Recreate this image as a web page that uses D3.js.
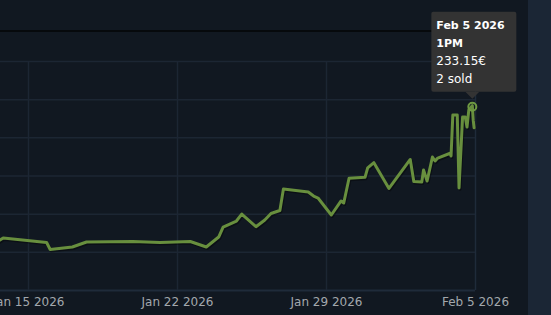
<!DOCTYPE html>
<html>
<head>
<meta charset="utf-8">
<script src="https://cdn.jsdelivr.net/npm/d3@7"></script>
<style>
  html, body { margin: 0; padding: 0; background: #111821; overflow: hidden; }
  svg { display: block; }
  .tick text { font-family: "DejaVu Sans", sans-serif; font-size: 12px; fill: #a3a8ad; }
</style>
</head>
<body>
<script>
// price history (hourly / sparse)
var dates = [
  "2026-01-13T22", "2026-01-14T12", "2026-01-16T13", "2026-01-16T17", "2026-01-17T18",
  "2026-01-18T10", "2026-01-20T14", "2026-01-21T21", "2026-01-23T07", "2026-01-24T01",
  "2026-01-24T15", "2026-01-24T20", "2026-01-25T11", "2026-01-25T17", "2026-01-26T09",
  "2026-01-26T19", "2026-01-27T02", "2026-01-27T12", "2026-01-27T16", "2026-01-28T20",
  "2026-01-29T02", "2026-01-29T07", "2026-01-29T22", "2026-01-30T09", "2026-01-30T12",
  "2026-01-30T18", "2026-01-31T12", "2026-01-31T15", "2026-01-31T22", "2026-02-01T15",
  "2026-02-02T15", "2026-02-02T19", "2026-02-03T04", "2026-02-03T06", "2026-02-03T10",
  "2026-02-03T16", "2026-02-03T19", "2026-02-03T22", "2026-02-04T12", "2026-02-04T13",
  "2026-02-04T15", "2026-02-04T20", "2026-02-04T22", "2026-02-05T02", "2026-02-05T05",
  "2026-02-05T07", "2026-02-05T09", "2026-02-05T13", "2026-02-05T14", "2026-02-05T15"
];
var prices = [
  86.0, 94.5, 89.8, 82.4, 85.1,
  90.3, 90.8, 89.8, 90.8, 85.1,
  95.5, 106.0, 112.3, 119.6, 106.3,
  113.4, 120.2, 123.3, 145.8, 142.7,
  138.5, 136.4, 118.6, 133.3, 131.2,
  157.1, 158.1, 167.9, 173.4, 146.4,
  176.8, 153.7, 153.2, 165.8, 154.2,
  179.4, 175.2, 178.3, 183.3, 180.4,
  223.4, 223.4, 146.9, 221.3, 221.3,
  210.8, 228.6, 233.15, 218.0, 210.0
];
var tickDates = ["2026-01-15T16", "2026-01-22T16", "2026-01-29T16", "2026-02-05T16"];
var yGrid = [40, 80, 120, 160, 200, 240, 280];

// hovered point
var hoverDate = "2026-02-05T13";
var hoverSold = 2;

var W = 551, H = 315;
var parse = d3.timeParse("%Y-%m-%dT%H");
var fmtTick = d3.timeFormat("%b %-d %Y");
var fmtDay = d3.timeFormat("%b %-d %Y");
var fmtHour = d3.timeFormat("%-I%p");

var data = dates.map(function(d, i) {
  return { date: parse(d), price: prices[i] };
});
var ticks = tickDates.map(parse);

var x = d3.scaleTime()
  .domain([ticks[0], ticks[ticks.length - 1]])
  .range([28, 475]);
var y = d3.scaleLinear()
  .domain([yGrid[0], yGrid[yGrid.length - 1]])
  .range([290, 61]);

var svg = d3.select("body").append("svg")
  .attr("width", W)
  .attr("height", H);

// right page strip
svg.append("rect")
  .attr("x", 528).attr("y", 0)
  .attr("width", W - 528).attr("height", H)
  .attr("fill", "#1b2635");

// separator line over the chart
svg.append("rect")
  .attr("x", 0).attr("y", 30)
  .attr("width", 500).attr("height", 2)
  .attr("fill", "#06090c");

// grid
var left = -20, right = x.range()[1];
svg.append("g").selectAll("line")
  .data(yGrid)
  .enter().append("line")
  .attr("x1", left).attr("x2", right)
  .attr("y1", function(d) { return y(d) + 0.5; })
  .attr("y2", function(d) { return y(d) + 0.5; })
  .attr("stroke", function(d, i) { return i == 0 ? "#1f2b3a" : "#1c2633"; })
  .attr("stroke-width", function(d, i) { return i == 0 ? 2 : 1.5; });

svg.append("g").selectAll("line")
  .data(ticks)
  .enter().append("line")
  .attr("x1", function(d) { return x(d) + 0.5; })
  .attr("x2", function(d) { return x(d) + 0.5; })
  .attr("y1", y.range()[1])
  .attr("y2", y.range()[0])
  .attr("stroke", function(d, i) { return i == ticks.length - 1 ? "#1f2b3a" : "#1c2633"; })
  .attr("stroke-width", 1.5);

// x axis labels
var xAxis = d3.axisBottom(x)
  .tickValues(ticks)
  .tickFormat(fmtTick)
  .tickSize(0)
  .tickPadding(7);
var gx = svg.append("g")
  .attr("transform", "translate(0," + y.range()[0] + ")")
  .call(xAxis);
gx.select(".domain").remove();

// line
var line = d3.line()
  .x(function(d) { return x(d.date); })
  .y(function(d) { return y(d.price); });

svg.append("path")
  .datum(data)
  .attr("transform", "translate(1,1.5)")
  .attr("fill", "none")
  .attr("stroke", "rgba(0,0,0,0.35)")
  .attr("stroke-width", 3)
  .attr("stroke-linejoin", "round")
  .attr("d", line);

svg.append("path")
  .datum(data)
  .attr("fill", "none")
  .attr("stroke", "#688f3e")
  .attr("stroke-width", 3)
  .attr("stroke-linejoin", "round")
  .attr("stroke-linecap", "round")
  .attr("d", line);

// highlight + tooltip
var hp = data.find(function(d) { return +d.date === +parse(hoverDate); });
var hx = x(hp.date), hy = y(hp.price);

svg.append("circle")
  .attr("cx", hx).attr("cy", hy + 1)
  .attr("r", 4)
  .attr("fill", "none")
  .attr("stroke", "#6f9a42")
  .attr("stroke-width", 2);

var boxW = 85, boxH = 80;
var bx = hx - 41, by = hy - 94;
var tip = svg.append("g");
tip.append("rect")
  .attr("x", bx).attr("y", by)
  .attr("width", boxW).attr("height", boxH)
  .attr("rx", 2)
  .attr("fill", "#333333");
tip.append("path")
  .attr("d", "M" + (hx - 7) + "," + (by + boxH) + "L" + (hx + 7) + "," + (by + boxH) + "L" + hx + "," + (by + boxH + 7) + "Z")
  .attr("fill", "#333333");

var lines = [
  { t: fmtDay(hp.date), bold: true },
  { t: fmtHour(hp.date), bold: true },
  { t: hp.price.toFixed(2) + "€", bold: false },
  { t: hoverSold + " sold", bold: false }
];
tip.selectAll("text")
  .data(lines)
  .enter().append("text")
  .attr("x", bx + 5)
  .attr("y", function(d, i) { return by + 17 + i * 18; })
  .attr("fill", "#ffffff")
  .style("font-family", "'DejaVu Sans', sans-serif")
  .style("font-size", function(d) { return d.bold ? "11px" : "12px"; })
  .style("font-weight", function(d) { return d.bold ? "bold" : "normal"; })
  .text(function(d) { return d.t; });
</script>
</body>
</html>
